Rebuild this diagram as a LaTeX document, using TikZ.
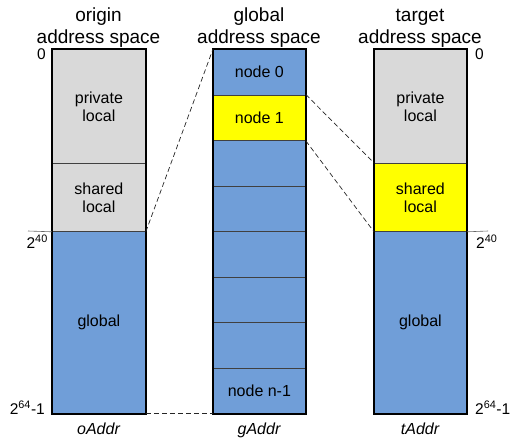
\documentclass[tikz,border=0pt]{standalone}
\usepackage{fontspec}
\setmainfont{Liberation Sans}
\definecolor{memblue}{RGB}{112,158,216}
\definecolor{memgrey}{RGB}{217,217,217}
\definecolor{memyellow}{RGB}{255,255,0}
\begin{document}
\begin{tikzpicture}[x=1pt,y=-1pt,
  cell/.style={draw=black!75,line width=0.8pt,anchor=north west,inner sep=0pt,
    align=center,font=\fontsize{16}{18}\selectfont},
  outer/.style={draw=black,line width=2pt},
  title/.style={anchor=base,inner sep=0pt,font=\fontsize{19}{22}\selectfont},
  sidelab/.style={inner sep=0pt,font=\fontsize{15.5}{18}\selectfont},
  botlab/.style={anchor=base,inner sep=0pt,font=\fontsize{16}{18}\selectfont\itshape},
  tick/.style={draw=black!60,line width=0.6pt},
  link/.style={draw=black!85,line width=0.7pt,dash pattern=on 5pt off 3pt}]
\useasboundingbox (0,0) rectangle (510,439);
% left column
\node[cell,fill=memgrey,minimum width=93pt,minimum height=114pt] (lp) at (52,49) {private\\local};
\node[cell,fill=memgrey,minimum width=93pt,minimum height=68pt] (ls) at (52,163) {shared\\local};
\node[cell,fill=memblue,minimum width=93pt,minimum height=182pt] (lg) at (52,231) {global};
\draw[outer] (lp.north west) rectangle (lg.south east);
% middle column
\node[cell,fill=memblue,minimum width=92pt,minimum height=45.5pt] (m1) at (213,49) {node 0};
\node[cell,fill=memyellow,minimum width=92pt,minimum height=45.5pt] (m2) at (213,94.5) {node 1};
\node[cell,fill=memblue,minimum width=92pt,minimum height=45.5pt] (m3) at (213,140) {};
\node[cell,fill=memblue,minimum width=92pt,minimum height=45.5pt] (m4) at (213,185.5) {};
\node[cell,fill=memblue,minimum width=92pt,minimum height=45.5pt] (m5) at (213,231) {};
\node[cell,fill=memblue,minimum width=92pt,minimum height=45.5pt] (m6) at (213,276.5) {};
\node[cell,fill=memblue,minimum width=92pt,minimum height=45.5pt] (m7) at (213,322) {};
\node[cell,fill=memblue,minimum width=92pt,minimum height=45.5pt] (m8) at (213,367.5) {node n-1};
\draw[outer] (m1.north west) rectangle (m8.south east);
% right column
\node[cell,fill=memgrey,minimum width=92pt,minimum height=114pt] (rp) at (374,49) {private\\local};
\node[cell,fill=memyellow,minimum width=92pt,minimum height=68pt] (rs) at (374,163) {shared\\local};
\node[cell,fill=memblue,minimum width=92pt,minimum height=182pt] (rg) at (374,231) {global};
\draw[outer] (rp.north west) rectangle (rg.south east);
% titles
\node[title] (t1a) at (98.5,21) {origin};
\node[title] (t1b) at (98.5,43) {address space};
\node[title] (t2a) at (259,21) {global};
\node[title] (t2b) at (259,43) {address space};
\node[title] (t3a) at (420,21) {target};
\node[title] (t3b) at (420,43) {address space};
% side labels
\coordinate (lt0) at (28,231);
\coordinate (rt0) at (488,231);
\draw[tick] (lt0) -- (ls.south west);
\draw[tick] (rs.south east) -- (rt0);
\node[sidelab,anchor=base east] (l0) at (46,59) {0};
\node[sidelab,anchor=base west] (r0) at (475,59) {0};
\node[sidelab,anchor=base east] (l40) at (48,248) {2\textsuperscript{40}};
\node[sidelab,anchor=base west] (r40) at (476,248) {2\textsuperscript{40}};
\node[sidelab,anchor=base east] (l64) at (45,414) {2\textsuperscript{64}-1};
\node[sidelab,anchor=base west] (r64) at (475,414) {2\textsuperscript{64}-1};
% bottom labels
\node[botlab] (ba) at (98.5,434) {oAddr};
\node[botlab] (bb) at (259,434) {gAddr};
\node[botlab] (bc) at (420,434) {tAddr};
% dashed links
\draw[link] (ls.south east) -- (m1.north west);
\draw[link] (lg.south east) -- (m8.south west);
\draw[link] (m2.north east) -- (rs.north west);
\draw[link] (m2.south east) -- (rs.south west);
\end{tikzpicture}
\end{document}
